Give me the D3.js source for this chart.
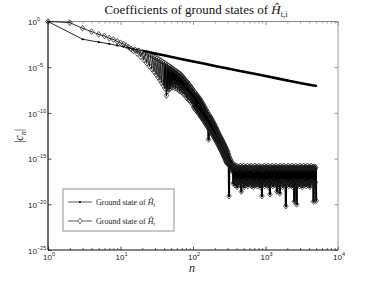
<!DOCTYPE html>
<html><head><meta charset="utf-8">
<script src="https://cdn.jsdelivr.net/npm/d3@7"></script>
<style>body{margin:0;background:#fff}svg{display:block}</style>
</head><body>
<script>
// ---------- data ----------
const xTickExps = [0, 1, 2, 3, 4];
const yTickExps = [0, -5, -10, -15, -20, -25];
const titleText = "Coefficients of ground states of ";
const legendLabels = ["Ground state of ", "Ground state of "];
const legendSubs = ["i", "t"];

// Ground state of H_i (log10 |c_n|)
const hiN = [1,3,5,7,9,11,13,15,17,21,25,31,41,51,71,101,151,201,301,501,701,1001,1501,2001,3001,4001,5001];
const hiLog = [0,-1.94,-2.25,-2.45,-2.62,-2.76,-2.88,-2.98,-3.07,-3.23,-3.36,-3.52,-3.73,-3.89,-4.13,-4.38,-4.66,-4.86,-5.14,-5.49,-5.72,-5.97,-6.25,-6.45,-6.73,-6.92,-7.05];

// Ground state of H_t (log10 |c_n|), in three pieces
const htN_a = [1,2,3,4,5,6,7,8,9,10,11,12,13,14,15,16,17,18,19,20,
21,22,23,24,25,26,27,28,29,30,31,32,33,34,35,36,37,38,39,40,
41,42,43,44,45,46,47,48,49,50,51,52,53,54,55,56,57,58,59,60,
61,62,63,64,65,66,67,68,69,70,71,72,73,74,75,76,77,78,79,80,
81,82,83,84,85,86,87,88,89,90,91,92,93,94,95,96,97,98,99,100];
const htLog_a = [0,-0.13,-0.74,-1.11,-1.4,-1.58,-1.83,-1.97,-2.17,-2.33,-2.47,-2.64,-2.82,-3.0,-3.2,-3.1,-3.5,-3.2,-3.85,-3.32,
-4.2,-3.44,-4.55,-3.56,-4.9,-3.68,-5.2,-3.8,-5.5,-3.92,-5.8,-4.04,-6.1,-4.16,-6.4,-4.28,-6.7,-4.4,-7.0,-4.52,
-7.3,-4.63,-8.1,-4.74,-7.6,-4.85,-7.4,-4.95,-7.3,-5.05,-7.0,-5.15,-7.2,-5.24,-6.8,-5.33,-7.3,-5.42,-6.9,-5.5,
-7.4,-5.58,-7.0,-5.66,-7.6,-5.74,-7.2,-5.84,-7.7,-5.95,-7.4,-6.06,-7.9,-6.17,-7.6,-6.28,-8.0,-6.39,-7.8,-6.5,
-8.3,-6.6,-8.0,-6.7,-8.5,-6.8,-8.2,-6.9,-8.6,-7.0,-8.4,-7.1,-8.8,-7.2,-8.5,-7.3,-9.0,-7.4,-8.7,-7.5];

const htN_b = [102,104,106,108,110,112,114,116,118,120,122,124,126,128,130,132,134,136,138,140,
142,144,146,148,150,152,154,156,158,160,162,164,166,168,170,172,174,176,178,180,
182,184,186,188,190,192,194,196,198,200,202,204,206,208,210,212,214,216,218,220,
222,224,226,228,230,232,234,236,238,240,242,244,246,248,250,252,254,256,258,260,
262,264,266,268,270,272,274,276,278,280,282,284,286,288,290,292,294,296,298,300,
305,310,314,318,322,326,330,335,340,345,350,355,360];
const htLog_b = [-9.38,-7.66,-9.54,-7.82,-9.7,-7.98,-9.86,-8.14,-10.02,-8.3,-10.18,-8.46,-10.34,-8.63,-10.48,-8.8,-10.63,-8.98,-10.78,-9.15,
-10.92,-9.32,-11.07,-9.5,-11.22,-9.67,-11.36,-9.83,-11.49,-9.97,-11.62,-12.9,-11.75,-10.25,-11.87,-10.38,-12.0,-10.52,-12.12,-10.66,
-12.25,-10.8,-12.37,-10.93,-12.5,-11.07,-12.62,-11.21,-12.74,-11.35,-12.86,-11.49,-12.98,-11.63,-13.1,-11.77,-13.22,-11.91,-13.34,-12.05,
-13.46,-12.19,-13.58,-12.33,-13.7,-12.45,-13.81,-12.56,-13.93,-12.67,-14.04,-12.77,-14.15,-12.88,-14.27,-12.99,-14.38,-13.09,-14.49,-13.2,
-14.61,-13.31,-14.72,-13.41,-14.83,-13.52,-14.95,-13.63,-15.06,-13.73,-15.17,-13.84,-15.29,-13.95,-15.4,-14.05,-15.46,-14.15,-15.52,-14.25,
-15.6,-14.5,-19.1,-14.8,-15.8,-15.05,-16.0,-15.25,-16.2,-15.45,-16.4,-15.6,-17.7];

const htN_c = [365,370,376,382,387,393,399,405,411,417,
424,430,437,443,450,457,464,471,478,485,
492,499,507,515,522,530,538,546,555,563,
571,580,589,597,606,615,625,634,644,653,
663,673,683,694,704,715,725,736,747,759,
770,782,793,805,817,830,842,855,868,881,
894,907,921,935,949,963,977,992,1007,1022,
1037,1053,1069,1085,1101,1118,1134,1151,1169,1186,
1204,1222,1240,1259,1278,1297,1317,1336,1356,1377,
1397,1418,1440,1461,1483,1506,1528,1551,1574,1598,
1622,1646,1671,1696,1722,1747,1774,1800,1827,1855,
1882,1911,1939,1968,1998,2028,2058,2089,2121,2152,
2185,2217,2251,2285,2319,2354,2389,2425,2461,2498,
2536,2574,2612,2652,2691,2732,2773,2814,2856,2899,
2943,2987,3032,3077,3124,3171,3218,3266,3315,3365,
3416,3467,3519,3572,3625,3680,3735,3791,3848,3906,
3964,4024,4084,4145,4208,4271,4335,4400,4466,4533,
4601,4670,4740,4811,4883,4957,5000];
const htLog_c = [-15.8,-17.6,-15.7,-17.9,-16.0,-17.4,-15.8,-18.1,-16.1,-17.6,
-15.9,-17.8,-16.2,-17.5,-15.8,-18.0,-18.6,-15.9,-17.7,-16.1,
-17.5,-15.8,-18.1,-16.0,-17.6,-15.9,-17.9,-16.2,-17.4,-15.8,
-18.0,-16.1,-17.6,-15.9,-17.8,-16.0,-17.5,-15.8,-18.0,-16.1,
-17.7,-15.9,-18.1,-16.2,-17.5,-15.8,-17.9,-16.0,-17.6,-15.9,
-18.0,-16.1,-17.4,-15.8,-17.8,-16.0,-18.1,-15.9,-17.6,-16.2,
-19.1,-15.9,-17.8,-16.1,-17.5,-15.8,-18.0,-16.0,-17.7,-15.9,
-17.9,-16.2,-17.6,-15.8,-18.1,-16.0,-17.5,-18.9,-15.9,-17.8,
-16.1,-17.6,-15.8,-18.0,-16.0,-17.4,-15.9,-17.9,-16.2,-17.7,
-15.8,-17.9,-18.6,-16.0,-17.6,-15.9,-18.0,-16.1,-18.8,-15.8,
-17.7,-16.0,-17.5,-15.9,-18.1,-16.2,-17.6,-15.8,-17.9,-16.0,
-17.6,-20.2,-15.9,-17.8,-16.1,-17.5,-15.8,-18.0,-16.0,-17.7,
-15.9,-17.9,-16.2,-17.6,-15.8,-18.1,-16.0,-17.4,-15.9,-19.7,
-16.1,-17.8,-15.8,-17.6,-20.0,-16.0,-17.9,-15.9,-17.5,-16.2,
-18.0,-15.8,-17.7,-16.0,-17.5,-15.9,-18.1,-16.1,-17.6,-15.8,
-17.9,-16.0,-17.4,-15.9,-18.0,-16.2,-17.7,-15.8,-17.9,-16.0,
-17.6,-15.9,-18.1,-16.1,-17.5,-15.8,-17.8,-16.0,-17.6,-15.9,
-19.7,-16.1,-17.8,-15.9,-17.6,-16.0,-19.6];

const htN = htN_a.concat(htN_b, htN_c);
const htLog = htLog_a.concat(htLog_b, htLog_c);
if (htN.length !== htLog.length) throw new Error("length mismatch");

// ---------- layout ----------
const W = 374, H = 282;
const L = 48, R = 338, T = 21.5, B = 250;

const svg = d3.select("body").append("svg").attr("width", W).attr("height", H)
  .style("font-family", "'Liberation Sans', Arial, sans-serif");
svg.append("rect").attr("width", W).attr("height", H).attr("fill", "#fff");

const x = d3.scaleLog().domain([1, 1e4]).range([L, R]);
const y = d3.scaleLog().domain([1e-25, 1]).range([B, T]);

const hi = hiN.map((n, i) => ({n, v: Math.pow(10, hiLog[i])}));
const ht = htN.map((n, i) => ({n, v: Math.pow(10, htLog[i])}));

const line = d3.line().x(d => x(d.n)).y(d => y(d.v));

// ---------- axes ----------
const majorX = xTickExps.map(e => Math.pow(10, e));
const minorX = [];
for (let e = 0; e < 4; e++) for (let k = 2; k <= 9; k++) minorX.push(k * Math.pow(10, e));
const majorY = yTickExps.map(e => Math.pow(10, e));

function styleAxis(g, col) {
  g.select(".domain").remove();
  g.selectAll("line").attr("stroke", col).attr("stroke-width", 0.8);
  g.selectAll("text").remove();
}
svg.append("g").attr("transform", `translate(0,${B})`)
  .call(d3.axisBottom(x).tickValues(majorX).tickSize(-3.5).tickFormat("")).call(g => styleAxis(g, "#222"));
svg.append("g").attr("transform", `translate(0,${B})`)
  .call(d3.axisBottom(x).tickValues(minorX).tickSize(-2).tickFormat("")).call(g => styleAxis(g, "#444"));
svg.append("g").attr("transform", `translate(0,${T})`)
  .call(d3.axisTop(x).tickValues(majorX).tickSize(-3.5).tickFormat("")).call(g => styleAxis(g, "#777"));
svg.append("g").attr("transform", `translate(0,${T})`)
  .call(d3.axisTop(x).tickValues(minorX).tickSize(-2).tickFormat("")).call(g => styleAxis(g, "#888"));
svg.append("g").attr("transform", `translate(${L},0)`)
  .call(d3.axisLeft(y).tickValues(majorY).tickSize(-3.5).tickFormat("")).call(g => styleAxis(g, "#222"));
svg.append("g").attr("transform", `translate(${R},0)`)
  .call(d3.axisRight(y).tickValues(majorY).tickSize(-3.5).tickFormat("")).call(g => styleAxis(g, "#777"));

// frame
svg.append("line").attr("x1", L).attr("x2", R).attr("y1", T).attr("y2", T).attr("stroke", "#888").attr("stroke-width", 1);
svg.append("line").attr("x1", R).attr("x2", R).attr("y1", T).attr("y2", B).attr("stroke", "#999").attr("stroke-width", 1);
svg.append("line").attr("x1", L).attr("x2", R).attr("y1", B).attr("y2", B).attr("stroke", "#111").attr("stroke-width", 1.2);
svg.append("line").attr("x1", L).attr("x2", L).attr("y1", T).attr("y2", B).attr("stroke", "#111").attr("stroke-width", 1.2);

// tick labels
xTickExps.forEach(e => {
  const t = svg.append("text").attr("x", x(Math.pow(10, e)) + 1).attr("y", B + 10)
    .attr("text-anchor", "middle").attr("font-size", 8).attr("fill", "#222");
  t.append("tspan").text("10");
  t.append("tspan").attr("dy", -4).attr("font-size", 5.5).text(String(e));
});
yTickExps.forEach(e => {
  const t = svg.append("text").attr("x", 28).attr("y", y(Math.pow(10, e)) + 3.8)
    .attr("text-anchor", "start").attr("font-size", 8).attr("fill", "#222");
  t.append("tspan").text("10");
  t.append("tspan").attr("dy", -4).attr("font-size", 5.5).text(e === 0 ? "0" : "\u2212" + (-e));
});

// axis labels
const serif = "'Liberation Serif', 'DejaVu Serif', serif";
svg.append("text").attr("x", 192).attr("y", 272).attr("text-anchor", "middle")
  .attr("font-family", serif).attr("font-style", "italic").attr("font-size", 12).attr("fill", "#222").text("n");
const yl = svg.append("text").attr("transform", "translate(23,136) rotate(-90)").attr("text-anchor", "middle")
  .attr("font-family", serif).attr("font-size", 12).attr("fill", "#222");
yl.append("tspan").text("|");
yl.append("tspan").attr("font-style", "italic").text("c");
yl.append("tspan").attr("font-style", "italic").attr("font-size", 8).attr("dy", 2.5).text("n");
yl.append("tspan").attr("dy", -2.5).text("|");

// title
const tt = svg.append("text").attr("x", 196).attr("y", 14).attr("text-anchor", "middle")
  .attr("font-family", serif).attr("font-size", 13).attr("fill", "#111");
tt.append("tspan").text(titleText);
tt.append("tspan").attr("font-style", "italic").text("\u0124");
tt.append("tspan").attr("font-size", 8.5).attr("dy", 2.5).text("t,i");

// ---------- series ----------
const plot = svg.append("g");
const diamond = "M0,-2.9L2.3,0L0,2.9L-2.3,0Z";

// H_t series: each segment stroked on its own so dense zigzags accumulate ink
const htSegs = ht.slice(1).map((d, i) => [ht[i], d]);
plot.selectAll(".seg").data(htSegs).join("path").attr("class", "seg")
  .attr("d", line).attr("fill", "none").attr("stroke-linecap", "round")
  .attr("stroke", "#000").attr("stroke-width", d => d[1].n > 100 ? 2.0 : (d[1].n > 40 ? 1.2 : 0.8));
plot.selectAll(".dm").data(ht).join("path").attr("class", "dm")
  .attr("transform", d => `translate(${x(d.n)},${y(d.v)})`).attr("d", diamond)
  .attr("fill", "none").attr("stroke", "#222").attr("stroke-width", 0.75);

// H_i series
plot.append("path").datum(hi).attr("d", line).attr("fill", "none")
  .attr("stroke", "#111").attr("stroke-width", 0.9);
plot.append("path").datum(hi.filter(d => d.n >= 21)).attr("d", line).attr("fill", "none")
  .attr("stroke", "#000").attr("stroke-width", 2.6);
plot.selectAll(".dt").data(hi).join("circle").attr("class", "dt")
  .attr("cx", d => x(d.n)).attr("cy", d => y(d.v)).attr("r", 1.1).attr("fill", "#000");

// ---------- legend ----------
const lg = svg.append("g");
lg.append("rect").attr("x", 63).attr("y", 189).attr("width", 111).attr("height", 42)
  .attr("fill", "#fff").attr("stroke", "#777").attr("stroke-width", 0.8);
[202, 221].forEach((ly, i) => {
  lg.append("line").attr("x1", 68).attr("x2", 92).attr("y1", ly).attr("y2", ly)
    .attr("stroke", "#333").attr("stroke-width", 0.8);
  if (i === 0) lg.append("circle").attr("cx", 80).attr("cy", ly).attr("r", 1.1).attr("fill", "#000");
  else lg.append("path").attr("transform", `translate(80,${ly})`).attr("d", diamond)
    .attr("fill", "#fff").attr("stroke", "#333").attr("stroke-width", 0.7);
  const t = lg.append("text").attr("x", 96).attr("y", ly + 2.5).attr("font-family", serif)
    .attr("font-size", 8).attr("fill", "#222");
  t.append("tspan").text(legendLabels[i]);
  t.append("tspan").attr("font-style", "italic").text("\u0124");
  t.append("tspan").attr("font-size", 5.5).attr("dy", 2).text(legendSubs[i]);
});
</script>
</body></html>
